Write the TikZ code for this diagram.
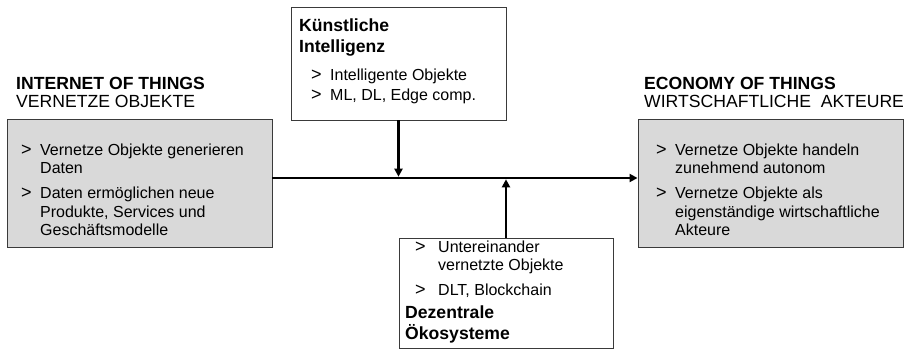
\documentclass[tikz,border=0pt]{standalone}
\usepackage{fontspec}
\setmainfont{Liberation Sans}
\usepackage{xcolor}
\usetikzlibrary{arrows.meta,fit,positioning}
\definecolor{boxgray}{HTML}{D9D9D9}
\definecolor{rimgray}{HTML}{3A3A3A}
\newcommand{\lines}[1]{\begin{tabular}[t]{@{}l@{}}#1\end{tabular}}
\newcommand{\bul}[2][19pt]{\makebox[#1][l]{{\fontsize{18}{18}\selectfont>}}\lines{#2}}

\begin{document}
\begin{tikzpicture}[x=1pt,y=-1pt,
    panel/.style={draw=rimgray, line width=0.9pt, inner sep=0pt},
    greypanel/.style={panel, fill=boxgray},
    itemtext/.style={anchor=base west, inner sep=0pt, font=\fontsize{16}{18.5}\selectfont},
    headtext/.style={anchor=base west, inner sep=0pt, font=\fontsize{17.6}{21}\selectfont\bfseries},
    subtext/.style={anchor=base west, inner sep=0pt, font=\fontsize{17.6}{21}\selectfont},
    flow/.style={line width=2.6pt, -{Triangle[length=8pt,width=8pt]}}]
                \useasboundingbox (0,0) rectangle (911,351);

                % the four boxes
                \node[greypanel, fit={(7,119) (272,247)}] (iot) {};
                \node[greypanel, fit={(638,119) (903,247)}] (eot) {};
                \node[panel, fill=white, fit={(291,7) (506,120)}] (ki) {};
                \node[panel, fill=white, fit={(399,238) (613,348)}] (dez) {};

                % titles left and right
                \node[headtext] (iothead) at (16,89.5) {INTERNET OF THINGS};
                \node[subtext] (iotsub) at (16,107) {VERNETZE OBJEKTE};
                \node[headtext] (eothead) at (644,89.5) {ECONOMY OF THINGS};
                \node[subtext] (eotsub) at (644,107) {WIRTSCHAFTLICHE~ AKTEURE};

                % left box
                \node[itemtext] (iota) at (21,155) {\bul{Vernetze Objekte generieren\\Daten}};
                \node[itemtext] (iotb) at (21,198.5) {\bul{Daten ermöglichen neue\\Produkte, Services und\\Geschäftsmodelle}};

                % right box
                \node[itemtext] (eota) at (656,155) {\bul{Vernetze Objekte handeln\\zunehmend autonom}};
                \node[itemtext] (eotb) at (656,198.5) {\bul{Vernetze Objekte als\\eigenständige wirtschaftliche\\Akteure}};

                % top box
                \node[headtext] (kihead) at (299,31) {\lines{Künstliche\\Intelligenz}};
                \node[itemtext] (kia) at (311,80.5) {\bul{Intelligente Objekte}};
                \node[itemtext] (kib) at (311,100.5) {\bul{ML, DL, Edge comp.}};

                % bottom box
                \node[itemtext] (deza) at (415,252) {\bul[23pt]{Untereinander\\vernetzte Objekte}};
                \node[itemtext] (dezb) at (415,295) {\bul[23pt]{DLT, Blockchain}};
                \node[headtext] (dezhead) at (405,318) {\lines{Dezentrale\\Ökosysteme}};

                % arrows
                \coordinate (spine) at ([yshift=5pt]iot.east);
                \draw[flow] (spine) -- (spine -| eot.west);
                \draw[flow, shorten >=1.3pt] (ki.south) -- (ki.south |- spine);
                \draw[flow, shorten >=1.3pt] (dez.north) -- (dez.north |- spine);
             \end{tikzpicture}
\end{document}
